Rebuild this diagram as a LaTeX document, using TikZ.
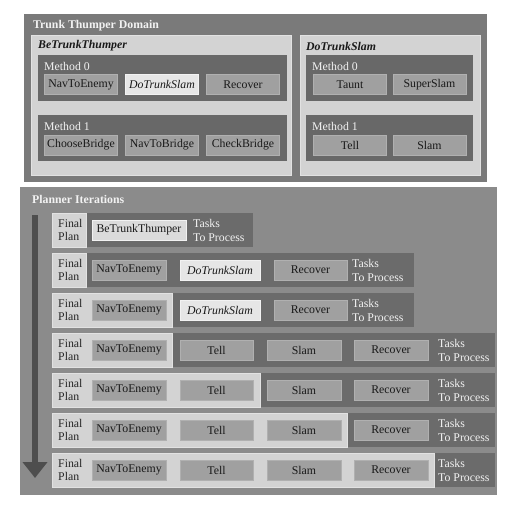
\documentclass[tikz,border=0pt]{standalone}
\usepackage{fontspec}
\setmainfont{Liberation Serif}
\usetikzlibrary{arrows.meta}

\definecolor{domaingray}{HTML}{7A7A7A}
\definecolor{panelgray}{HTML}{D3D3D3}
\definecolor{panelline}{HTML}{E2E2E2}
\definecolor{methodgray}{HTML}{686868}
\definecolor{itemgray}{HTML}{A0A0A0}
\definecolor{itemline}{HTML}{B0B0B0}
\definecolor{hilitegray}{HTML}{E6E6E6}
\definecolor{plannergray}{HTML}{8B8B8B}
\definecolor{rowgray}{HTML}{6B6B6B}
\definecolor{arrowgray}{HTML}{4E4E4E}
\definecolor{labelwhite}{HTML}{F2F2F2}

\newcommand\diagfont{\fontsize{11.8}{13}\selectfont}

\tikzset{
  taskbox/.style={fill=itemgray, draw=itemline, line width=0.8pt, minimum width=73pt,
    minimum height=20pt, inner sep=0pt, text=black!90, font=\diagfont},
  hilite/.style={taskbox, fill=hilitegray, draw=white!95!black},
  heading/.style={anchor=west, inner sep=0pt, font=\diagfont\bfseries, text=labelwhite},
  subhead/.style={anchor=west, inner sep=0pt, font=\diagfont\bfseries\itshape, text=black!90},
  methodlabel/.style={anchor=west, inner sep=0pt, font=\diagfont, text=labelwhite},
  twoline/.style={anchor=west, inner sep=0pt, align=left, text=labelwhite,
    font=\fontsize{11.8}{14}\selectfont},
}

\begin{document}
\begin{tikzpicture}[x=1pt, y=-1pt]
    \useasboundingbox (0,0) rectangle (526,504);

    % domain
    \fill[domaingray] (24,14) rectangle (487,182);
    \node[heading] (domain) at (33,26) {Trunk Thumper Domain};

    \filldraw[fill=panelgray, draw=panelline] (31,35) rectangle (291,175);
    \node[subhead] (bett) at (38,46) {BeTrunkThumper};
    \fill[methodgray] (38,55) rectangle (287,101);
    \node[methodlabel] (bm0) at (44,66) {Method 0};
    \node[taskbox] (bm0a) at (81,84.5) {NavToEnemy};
    \node[hilite, font=\diagfont\itshape] (bm0b) at (162,84.5) {DoTrunkSlam};
    \node[taskbox] (bm0c) at (243,84.5) {Recover};
    \fill[methodgray] (38,115) rectangle (287,161);
    \node[methodlabel] (bm1) at (44,126) {Method 1};
    \node[taskbox] (bm1a) at (81,145) {ChooseBridge};
    \node[taskbox] (bm1b) at (162,145) {NavToBridge};
    \node[taskbox] (bm1c) at (243,145) {CheckBridge};

    \filldraw[fill=panelgray, draw=panelline] (300,35) rectangle (480,175);
    \node[subhead] (dts) at (306,46) {DoTrunkSlam};
    \fill[methodgray] (306,55) rectangle (473,101);
    \node[methodlabel] (dm0) at (312,66) {Method 0};
    \node[taskbox] (dm0a) at (350,84.5) {Taunt};
    \node[taskbox] (dm0b) at (429.5,84.5) {SuperSlam};
    \fill[methodgray] (306,115) rectangle (473,161);
    \node[methodlabel] (dm1) at (312,126) {Method 1};
    \node[taskbox] (dm1a) at (350,145) {Tell};
    \node[taskbox] (dm1b) at (429.5,145) {Slam};

    % planner
    \fill[plannergray] (20,187) rectangle (497,495);
    \node[heading] (planner) at (32,199) {Planner Iterations};
    \coordinate (top) at (35,215);
    \coordinate (bottom) at (35,478);
    \draw[arrowgray, line width=6pt, -{Triangle[width=24pt,length=16pt]}] (top) -- (bottom);

    \foreach \i/\plend/\rowend/\taskx [evaluate=\i as \rowtop using 173+40*\i] in
        {1/86/253/193, 2/86/414/352, 3/172/414/352, 4/172/495/438,
         5/260/495/438, 6/347/495/438, 7/434/495/438} {
        \fill[rowgray] (52,\rowtop) rectangle (\rowend,\rowtop+34);
        \filldraw[fill=panelgray, draw=panelline] (52,\rowtop) rectangle (\plend,\rowtop+34);
        \node[twoline, text=black!85, font=\fontsize{11.8}{13}\selectfont] (plan\i) at (58,\rowtop+17) {Final\\Plan};
        \node[twoline] (todo\i) at (\taskx,\rowtop+17) {Tasks\\To Process};
    }

    \node[hilite, minimum width=94pt, fill=panelgray!60!hilitegray] (r1a) at (139,230) {BeTrunkThumper};

    \node[taskbox, minimum width=74pt] (r2a) at (129,270) {NavToEnemy};
    \node[hilite, minimum width=80pt, font=\diagfont\itshape] (r2b) at (220,270) {DoTrunkSlam};
    \node[taskbox] (r2c) at (310.5,270) {Recover};

    \node[taskbox, minimum width=74pt] (r3a) at (129,310) {NavToEnemy};
    \node[hilite, minimum width=80pt, font=\diagfont\itshape] (r3b) at (220,310) {DoTrunkSlam};
    \node[taskbox] (r3c) at (310.5,310) {Recover};

    \foreach \i in {4,...,7} {
        \node[taskbox, minimum width=74pt] (r\i a) at (129,173+40*\i+17) {NavToEnemy};
        \node[taskbox] (r\i b) at (216.5,173+40*\i+17) {Tell};
        \node[taskbox, minimum width=74pt] (r\i c) at (304,173+40*\i+17) {Slam};
        \node[taskbox, minimum width=74pt] (r\i d) at (391,173+40*\i+17) {Recover};
    }
\end{tikzpicture}
\end{document}
